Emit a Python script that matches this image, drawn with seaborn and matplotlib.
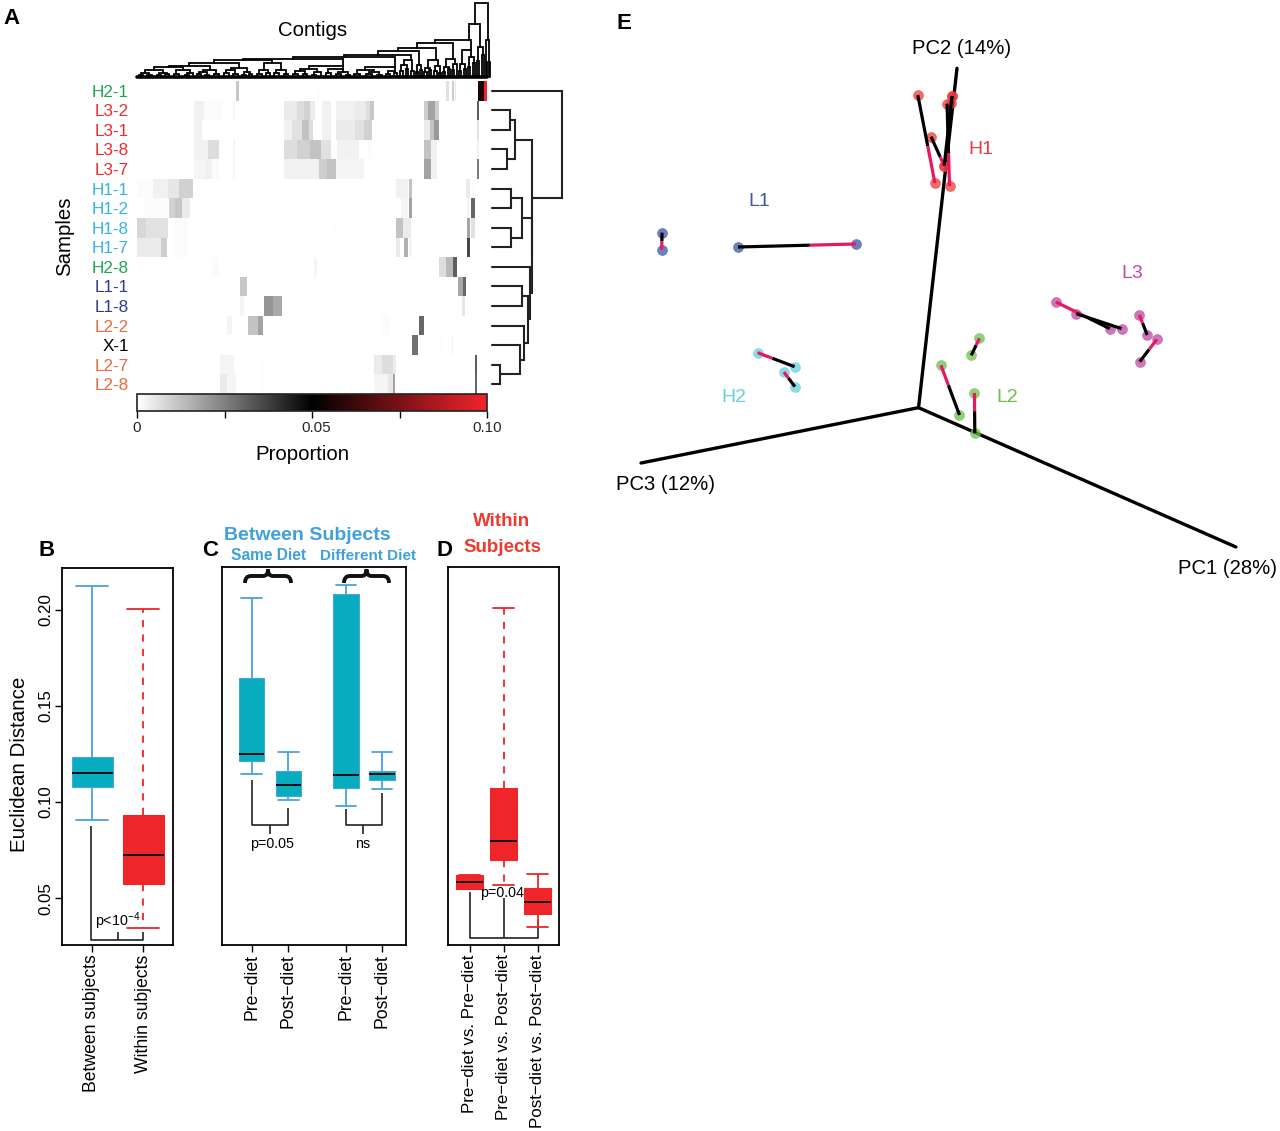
import numpy as np
import pandas as pd
import matplotlib
matplotlib.use("Agg")
import matplotlib.pyplot as plt
from matplotlib.colors import LinearSegmentedColormap
from matplotlib.path import Path
from matplotlib.patches import PathPatch
from matplotlib.transforms import ScaledTranslation
import seaborn as sns

sns.set_theme(style="white")
plt.rcParams["font.family"] = ["Liberation Sans", "DejaVu Sans"]
plt.rcParams["mathtext.default"] = "regular"

# ---------- Panel A data ----------
samples = ["H2-1", "L3-2", "L3-1", "L3-8", "L3-7", "H1-1", "H1-2", "H1-8", "H1-7",
           "H2-8", "L1-1", "L1-8", "L2-2", "X-1", "L2-7", "L2-8"]
sample_colors = ["#1AA84F"] + ["#EE2A2E"] * 4 + ["#35B3E8"] * 4 + ["#1AA84F"] + ["#2E3A92"] * 2 + \
                ["#F0673A"] + ["black"] + ["#F0673A"] * 2
n_contigs = 350
# per sample: (first contig, last contig, proportion)
h2_1 = [(181, 182, .001), (99, 102, .011), (309, 312, .006), (315, 317, .010), (318, 319, .005), (341, 347, .056), (347, 350, .10)]
l3_2 = [(57, 67, .003), (67, 85, .001), (96, 98, .002), (147, 160, .004), (160, 167, .007), (167, 173, .009), (173, 178, .004),
        (185, 194, .003), (199, 218, .003), (218, 229, .004), (229, 233, .007), (233, 237, .011), (287, 291, .010),
        (291, 298, .018), (298, 302, .010), (340, 342, .032)]
l3_1 = [(57, 65, .003), (147, 155, .003), (155, 165, .006), (165, 172, .012), (172, 176, .007), (185, 194, .003), (199, 218, .004),
        (218, 227, .006), (227, 235, .009), (287, 293, .004), (293, 297, .012), (297, 302, .020), (340, 342, .006)]
l3_8 = [(57, 71, .003), (71, 82, .007), (96, 98, .002), (147, 160, .007), (160, 173, .009), (173, 184, .012), (184, 194, .006),
        (200, 222, .003), (231, 235, .001), (287, 294, .012), (294, 300, .003), (340, 342, .003)]
l3_7 = [(57, 68, .002), (68, 75, .003), (75, 82, .001), (96, 98, .002), (147, 182, .003), (182, 190, .010), (190, 199, .012),
        (199, 227, .002), (287, 294, .018), (294, 300, .003), (340, 342, .026)]
h1_1 = [(0, 16, .001), (16, 31, .003), (31, 42, .005), (42, 56, .009), (259, 271, .003), (272, 275, .012), (329, 333, .004), (335, 337, .001)]
h1_2 = [(7, 31, .001), (32, 38, .009), (38, 45, .011), (45, 53, .004), (264, 271, .002), (272, 275, .018), (330, 333, .002), (334, 338, .03)]
h1_8 = [(0, 9, .008), (9, 31, .006), (38, 51, .001), (198, 199, .001), (259, 266, .012), (266, 274, .004), (330, 333, .018), (334, 338, .006)]
h1_7 = [(0, 24, .004), (24, 30, .010), (37, 51, .001), (259, 263, .004), (267, 271, .016), (272, 275, .002), (330, 333, .036)]
h2_8 = [(75, 82, .001), (177, 180, .002), (302, 309, .007), (309, 316, .014), (316, 320, .032)]
l1_1 = [(103, 110, .011), (321, 326, .017), (326, 329, .03)]
l1_8 = [(103, 107, .002), (127, 136, .021), (136, 145, .017), (325, 328, .005)]
l2_2 = [(90, 95, .002), (111, 121, .012), (121, 126, .018), (245, 253, .001), (282, 287, .03)]
x_1 = [(275, 281, .028), (303, 304, .001), (315, 316, .002)]
l2_7 = [(83, 97, .002), (125, 126, .001), (237, 245, .004), (245, 256, .007), (256, 259, .004), (338, 340, .032)]
l2_8 = [(83, 90, .004), (90, 99, .002), (125, 126, .001), (237, 251, .002), (251, 256, .005), (256, 258, .018), (338, 340, .03)]
sample_blocks = [h2_1, l3_2, l3_1, l3_8, l3_7, h1_1, h1_2, h1_8, h1_7, h2_8, l1_1, l1_8, l2_2, x_1, l2_7, l2_8]

# sample tree: (height, left, right); leaves are rows
sample_tree = (70.0,
               0,
               (40.7,
                (23.5, (18.5, 1, 2), (15.0, 3, 4)),
                (40.0,
                 (30.0, (19.5, 5, 6), (19.5, 7, 8)),
                 (38.5,
                  9,
                  (36.0,
                   (30.0, 10, 11),
                   (32.5,
                    12,
                    (28.5,
                     13,
                     (8.0, 14, 15))))))))

# contig tree: (height, left, right[, stem share]); integer leaves are runs of contigs
c1 = (10, (7, (4, (2, 4, 4), (2, 4, 5)), (4, (2, 5, 4), (3, 4, 4))), (7, (3, 5, 6), (4, (2, 5, 4), 4)))
c2 = (7, (5, (3, 4, 4), (2, 4, 4)), (3, 5, 5))
c3 = (9, (7, (4, 5, 5), (3, 4, 5)), (5, (2, 4, 3), (3, 3, 4)))
c4 = (14, (7, (3, 5, 5), (4, 4, 4)), (7, (4, 4, 5), (3, 5, 4)))
c5 = (11, (8, (6, (3, 5, 5), (3, 5, 4)), (5, (2, 5, 4), 6)), (8, (4, 4, 5), (5, (3, 5, 6), (2, 4, 3)), 1.0), 1.0)
c6 = (10, (7, (3, 6, 6), (5, (3, 6, 5), (2, 5, 5))), (6, (3, 4, 4), (4, 3, 4), 1.0), 1.0)
c7 = (17, (12, (6, 2, 3), (8, 3, 2)), (6, 3, 3), .9)
c8 = (12, (5, 2, 2), (7, 2, 2))
c9 = (17, (9, (5, 2, 3), (7, 2, 2)), (11, (6, 3, 3), (4, 2, 2)), .8)
c10 = (18, (10, (5, 2, 2), (8, 3, 2)), (13, (7, 2, 2), 3), .85)
c11 = (27, (13, (6, 2, 2), (8, 3, 2)), (20, (10, 2, 2), (14, 3, 2)), .95)
c12 = (30, (16, 2, 2), (22, 3, 2))
c13 = (37, (15, 1, 2), (15, 1, 2))
spine = (11, c1, c2)
for height, part, share in [(14, c3, .5), (17, c4, .5), (18, c5, .5), (20, c6, .5), (22, c7, .5), (26, c8, .5),
                            (29, c9, .5), (34, c10, .5), (37, c11, .95), (53, c12, .5)]:
    spine = (height, spine, part, share)
contig_tree = (74, spine, c13)

bar_ticks = [0, .025, .05, .075, .10]
bar_labels = ["0", "", "0.05", "", "0.10"]

# ---------- Panels B, C, D data: (low whisker, q1, median, q3, high whisker) ----------
between_subjects = [.0907, .1080, .1149, .1232, .2123]
within_subjects = [.0344, .0573, .0723, .0932, .2005]
same_pre = [.1143, .1213, .1248, .1640, .2058]
same_post = [.1008, .1029, .1087, .1161, .1258]
diff_pre = [.0977, .1070, .1138, .2081, .2128]
diff_post = [.1066, .1112, .1143, .1161, .1260]
pre_pre = [.0545, .0545, .0583, .0616, .0616]
pre_post = [.0568, .0698, .0793, .1072, .2006]
post_post = [.0347, .0413, .0477, .0550, .0624]
b_labels = ["Between subjects", "Within subjects"]
c_labels = ["Pre\u2212diet", "Post\u2212diet", "Pre\u2212diet", "Post\u2212diet"]
d_labels = ["Pre\u2212diet vs. Pre\u2212diet", "Pre\u2212diet vs. Post\u2212diet", "Post\u2212diet vs. Post\u2212diet"]
b_x = [92, 143]
c_x = [251.6, 288.4, 346, 381.8]
d_x = [469.5, 503.6, 537.5]

# ---------- Panel E data (projected coordinates); each run goes from the pink end to the black end ----------
l1_start = [(117, 569), (662, 552)]
l1_end = [(118, 518), (331, 561)]
l1_switch = [.5, .39]
h1_start = [(884, 369), (910, 317), (925, 378), (910, 317), (930, 130)]
h1_end = [(836, 105), (873, 230), (918, 131), (932, 108), (932, 108)]
h1_switch = [.42, .3, .4, 0, 0]
l3_start = [(1224, 726), (1281, 761), (1458, 765), (1507, 838)]
l3_end = [(1375, 806), (1408, 806), (1480, 825), (1459, 905)]
l3_switch = [.6, 0, .4, .45]
l2_start = [(1009, 835), (901, 916), (995, 999)]
l2_end = [(986, 886), (953, 1065), (996, 1120)]
l2_switch = [.4, .4, .45]
h2_start = [(386, 878), (460, 936)]
h2_end = [(490, 920), (491, 980)]
h2_switch = [.4, .4]
pc_origin = (838, 1043)
pc_ends = [(1729, 1461), (946, 25), (59, 1209)]

W, H = 1280, 1131
fig = plt.figure(figsize=(W / 100, H / 100), dpi=100, facecolor="white")


def axpx(l, t, r, b, **kw):
    return fig.add_axes([l / W, 1 - b / H, (r - l) / W, (b - t) / H], **kw)


page = axpx(0, 0, W, H)
page.set_xlim(0, W)
page.set_ylim(H, 0)
page.axis("off")
page.set_zorder(5)
page.patch.set_alpha(0)

# ---------- Panel A ----------
matrix = np.zeros((len(samples), n_contigs))
for row, blocks in enumerate(sample_blocks):
    for a, b, v in blocks:
        matrix[row, a:b] = v
cmap = LinearSegmentedColormap.from_list("prop", ["white", "black", "#F2242B"])
hm_ax = axpx(137, 81, 487, 394)
bar_ax = axpx(137, 394, 487, 411)
sns.heatmap(matrix, ax=hm_ax, cmap=cmap, vmin=0, vmax=.10, xticklabels=False, yticklabels=samples,
            cbar_ax=bar_ax, cbar_kws={"orientation": "horizontal"}, linewidths=0)
hm_ax.tick_params(axis="y", length=0, pad=6, labelsize=12.3, labelrotation=0)
for tl, col in zip(hm_ax.get_yticklabels(), sample_colors):
    tl.set_color(col)
    tl.set_va("center_baseline")
cbar = hm_ax.collections[0].colorbar
cbar.set_ticks(bar_ticks)
cbar.set_ticklabels(bar_labels)
bar_ax.tick_params(axis="x", length=5, width=1, color="black", labelsize=11, pad=2, bottom=True)
cbar.outline.set_edgecolor("#222222")
cbar.outline.set_linewidth(1.2)
cbar.outline.set_visible(True)
mid_label = bar_ax.get_xticklabels()[2]
mid_label.set_transform(mid_label.get_transform() + ScaledTranslation(4 / 100, 0, fig.dpi_scale_trans))


def draw_sample_tree(ax, node):
    if not isinstance(node, tuple):
        return node + .5, 0.0
    h, a, b = node
    ya, ha = draw_sample_tree(ax, a)
    yb, hb = draw_sample_tree(ax, b)
    ax.plot([ha, h, h, hb], [ya, ya, yb, yb], color="#222222", lw=1.5, solid_joinstyle="miter", clip_on=False)
    return (ya + yb) / 2, h


tree_ax = axpx(491.7, 81, 561.7, 394)
tree_ax.set_xlim(0, 70)
tree_ax.set_ylim(16, 0)
tree_ax.axis("off")
draw_sample_tree(tree_ax, sample_tree)


def draw_contig_tree(ax, node, start):
    if not isinstance(node, tuple):
        return start + node / 2, 0.0, start + node
    h, a, b = node[:3]
    share = node[3] if len(node) > 3 else .5
    xa, ha, nxt = draw_contig_tree(ax, a, start)
    xb, hb, nxt = draw_contig_tree(ax, b, nxt)
    ax.plot([xa, xa, xb, xb], [ha, h, h, hb], color="black", lw=1.3, solid_joinstyle="miter", clip_on=False)
    return xa + (xb - xa) * share, h, nxt


top_ax = axpx(137, 0, 487, 77)
top_ax.set_xlim(0, n_contigs)
top_ax.set_ylim(0, 77)
top_ax.axis("off")
draw_contig_tree(top_ax, contig_tree, 0)
top_ax.axhline(0.5, color="black", lw=2.6, clip_on=False)

page.text(313, 30, "Contigs", ha="center", va="center", fontsize=14.7, color="black")
page.text(302, 454, "Proportion", ha="center", va="center", fontsize=14.7, color="black")
page.text(65, 236, "Samples", ha="center", va="center", rotation=90, fontsize=14.7, color="black")

# ---------- Panels B, C, D ----------
TEAL, BLUE, RED = "#07ADBE", "#4AA3DF", "#EE2529"
DASH = (0, (4, 4))


def add_box(ax, x, vals, width, fill, edge, ls="-"):
    sns.boxplot(x=[x] * len(vals), y=vals, ax=ax, native_scale=True, width=width, whis=(0, 100),
                color=fill, linecolor=edge, linewidth=1.3, saturation=1, capwidths=width * .8,
                boxprops={"facecolor": fill, "edgecolor": edge, "linewidth": .8},
                whiskerprops={"color": edge, "linestyle": ls, "linewidth": 1.3},
                capprops={"color": edge, "linewidth": 1.3},
                medianprops={"color": "black", "linewidth": 1.3})


YLIM = (.0257, .2219)


def finish(ax, xticks, xlabels, xlim, ysh=False, size=12.7):
    ax.set_xlim(*xlim)
    ax.set_ylim(*YLIM)
    ax.set_xlabel("")
    ax.set_ylabel("")
    ax.set_xticks(xticks)
    ax.set_xticklabels(xlabels, rotation=90, fontsize=size, color="black")
    ax.tick_params(axis="x", bottom=True, length=5, width=1, color="black", pad=2)
    if ysh:
        ax.set_yticks([.05, .10, .15, .20])
        ax.set_yticklabels(["0.05", "0.10", "0.15", "0.20"], rotation=90, va="center", fontsize=12.2, color="black")
        ax.tick_params(axis="y", left=True, length=5, width=1, color="black", pad=1.5)
    else:
        ax.set_yticks([])
    for s in ax.spines.values():
        s.set_visible(True)
        s.set_color("black")
        s.set_linewidth(1.3)


def bracket(ax, segs):
    for xs, ys in segs:
        ax.plot(xs, ys, color="#222222", lw=1.2, zorder=1, solid_capstyle="butt")


ax_b = axpx(62, 567.5, 173, 945)
add_box(ax_b, b_x[0], between_subjects, 41, TEAL, BLUE)
add_box(ax_b, b_x[1], within_subjects, 41, RED, RED, DASH)
bracket(ax_b, [([91, 91, 143, 143], [.0874, .0285, .0285, .0322]), ([118, 118], [.0285, .0322])])
ax_b.text(117.5, .0322, r"p<10$^{-4}$", fontsize=10.3, ha="center", va="bottom", color="black", zorder=6)
finish(ax_b, b_x, b_labels, (62, 173), ysh=True)

ax_c = axpx(221.8, 567, 405.5, 944.5)
for x, vals in zip(c_x, [same_pre, same_post, diff_pre, diff_post]):
    add_box(ax_c, x, vals, 25.5, TEAL, BLUE)
bracket(ax_c, [([251.6, 251.6, 288.4, 288.4], [.1112, .0876, .0876, .0967]), ([270, 270], [.0876, .0829]),
               ([346, 346, 381.8, 381.8], [.0959, .0876, .0876, .1045]), ([363, 363], [.0876, .0829])])
ax_c.text(272, .0781, "p=0.05", fontsize=10.3, ha="center", va="center", color="black")
ax_c.text(363, .0781, "ns", fontsize=10.3, ha="center", va="center", color="black")
finish(ax_c, c_x, c_labels, (221.8, 405.5))

ax_d = axpx(448, 567, 559, 944.5)
add_box(ax_d, d_x[0], pre_pre, 27, RED, RED)
add_box(ax_d, d_x[1], pre_post, 27, RED, RED, DASH)
add_box(ax_d, d_x[2], post_post, 27, RED, RED)
bracket(ax_d, [([469.5, 469.5, 537.5, 537.5], [.0529, .0289, .0289, .0384]), ([503.6, 503.6], [.0289, .0498])])
ax_d.text(502, .0527, "p=0.04", fontsize=10.3, ha="center", va="center", color="black", zorder=6)
finish(ax_d, d_x, d_labels, (448, 559), size=12.2)

page.text(20, 764, "Euclidean Distance", fontsize=14.8, rotation=90, ha="center", va="center", color="black")
page.text(39, 550.5, "B", fontsize=16, fontweight="bold", ha="left", va="center", color="black")
page.text(202, 550.5, "C", fontsize=16, fontweight="bold", ha="left", va="center", color="black")
page.text(436, 550.5, "D", fontsize=16, fontweight="bold", ha="left", va="center", color="black")
page.text(3, 19, "A", fontsize=16, fontweight="bold", ha="left", va="center", color="black")
page.text(617, 23.5, "E", fontsize=16, fontweight="bold", ha="left", va="center", color="black")

page.text(307, 535, "Between Subjects", fontsize=14, fontweight="bold", ha="center", va="center", color="#3FA0DC")
page.text(269, 556, "Same Diet", fontsize=11.2, fontweight="bold", ha="center", va="center", color="#3FA0DC")
page.text(368, 556, "Different Diet", fontsize=11, fontweight="bold", ha="center", va="center", color="#3FA0DC")
page.text(502, 522, "Within", fontsize=13.5, fontweight="bold", ha="center", va="center", color="#EE3A2E")
page.text(502, 547, "Subjects", fontsize=13.5, fontweight="bold", ha="center", va="center", color="#EE3A2E")


def brace(ax, x0, x1, y_end=583, y_mid=576, y_tip=569.5):
    xm = (x0 + x1) / 2
    verts = [(x0, y_end), (x0, y_mid), (x0 + 6, y_mid), (xm - 5, y_mid), (xm, y_mid), (xm, y_tip),
             (xm, y_mid), (xm + 5, y_mid), (x1 - 6, y_mid), (x1, y_mid), (x1, y_end)]
    codes = [Path.MOVETO, Path.CURVE3, Path.CURVE3, Path.LINETO, Path.CURVE3, Path.CURVE3,
             Path.CURVE3, Path.CURVE3, Path.LINETO, Path.CURVE3, Path.CURVE3]
    ax.add_patch(PathPatch(Path(verts, codes), fill=False, edgecolor="#111111", lw=2.8))


brace(page, 245, 291)
brace(page, 344, 389)

# ---------- Panel E ----------
ax_e = axpx(620, 60, 1180, 460)
ax_e.set_xlim(0, 1572)
ax_e.set_ylim(1200, 0)
ax_e.axis("off")
PINK = "#E5195F"
for end in pc_ends:
    ax_e.plot([pc_origin[0], end[0]], [pc_origin[1], end[1]], color="black", lw=2.4, clip_on=False,
              solid_capstyle="round", zorder=1)
groups = [(l1_start, l1_end, l1_switch, "#3F56A8"), (h1_start, h1_end, h1_switch, "#F0393C"),
          (l3_start, l3_end, l3_switch, "#C047A3"), (l2_start, l2_end, l2_switch, "#6FBE4B"),
          (h2_start, h2_end, h2_switch, "#66CFE0")]
for st, en, sw, col in groups:
    pts = np.array(st + en, dtype=float)
    sns.scatterplot(x=pts[:, 0], y=pts[:, 1], ax=ax_e, color=col, s=52, alpha=.75, edgecolor=col, linewidth=.4,
                    legend=False, zorder=3, clip_on=False)
    for a, b, f in zip(st, en, sw):
        a, b = np.array(a, float), np.array(b, float)
        m = a + (b - a) * f
        ax_e.plot([m[0], b[0]], [m[1], b[1]], color="black", lw=2.3, solid_capstyle="butt", zorder=4)
        if f > 0:
            ax_e.plot([a[0], m[0]], [a[1], m[1]], color=PINK, lw=2.3, solid_capstyle="butt", zorder=4)

page.text(962, 48, "PC2 (14%)", fontsize=14.6, ha="center", va="center", color="black")
page.text(665, 485, "PC3 (12%)", fontsize=14.6, ha="center", va="center", color="black")
page.text(1228, 569, "PC1 (28%)", fontsize=14.6, ha="center", va="center", color="black")
page.text(981, 150, "H1", fontsize=14, ha="center", va="center", color="#F0393C")
page.text(759, 202, "L1", fontsize=14, ha="center", va="center", color="#3F56A8")
page.text(1132, 273, "L3", fontsize=14, ha="center", va="center", color="#C047A3")
page.text(1007, 397, "L2", fontsize=14, ha="center", va="center", color="#6FBE4B")
page.text(734, 398, "H2", fontsize=14, ha="center", va="center", color="#66CFE0")

fig.savefig("out.png", dpi=100)
